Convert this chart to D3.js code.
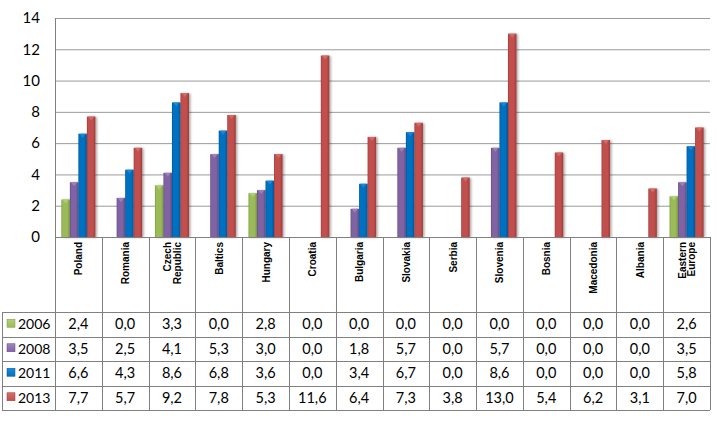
<!DOCTYPE html>
<html><head><meta charset="utf-8">
<script src="https://cdn.jsdelivr.net/npm/d3@7"></script>
<style>
html,body{margin:0;padding:0;background:#fff;}
svg{display:block;}
</style></head>
<body>
<svg id="chart" width="717" height="426"></svg>
<script>
const categories = ["Poland","Romania","Czech\nRepublic","Baltics","Hungary","Croatia","Bulgaria","Slovakia","Serbia","Slovenia","Bosnia","Macedonia","Albania","Eastern\nEurope"];
const seriesNames = ["2006","2008","2011","2013"];
const v2006 = [2.4,0.0,3.3,0.0,2.8,0.0,0.0,0.0,0.0,0.0,0.0,0.0,0.0,2.6];
const v2008 = [3.5,2.5,4.1,5.3,3.0,0.0,1.8,5.7,0.0,5.7,0.0,0.0,0.0,3.5];
const v2011 = [6.6,4.3,8.6,6.8,3.6,0.0,3.4,6.7,0.0,8.6,0.0,0.0,0.0,5.8];
const v2013 = [7.7,5.7,9.2,7.8,5.3,11.6,6.4,7.3,3.8,13.0,5.4,6.2,3.1,7.0];
const yTicks = [0,2,4,6,8,10,12,14];
const seriesValues = [v2006,v2008,v2011,v2013];
const colors = {
  "2006":{main:"#9BBB59",dark:"#7A9A3F",light:"#B3CF78"},
  "2008":{main:"#8064A2",dark:"#634985",light:"#9C85BA"},
  "2011":{main:"#0070C0",dark:"#00569A",light:"#1E8AD6"},
  "2013":{main:"#C0504D",dark:"#9E3A38",light:"#D66E6A"}
};

const svg = d3.select("#chart");
const L = 55, R = 710, T = 18, B = 237;
const tableTop = 312, rowH = 24.5, tableLeft = 2;
const FONT = "Lato, 'Open Sans', sans-serif";

const defs = svg.append("defs");
seriesNames.forEach((s,i)=>{
  const g = defs.append("linearGradient").attr("id","g"+i).attr("x1","0").attr("x2","1").attr("y1","0").attr("y2","0");
  g.append("stop").attr("offset","0").attr("stop-color",colors[s].dark);
  g.append("stop").attr("offset","0.15").attr("stop-color",colors[s].main);
  g.append("stop").attr("offset","0.7").attr("stop-color",colors[s].main);
  g.append("stop").attr("offset","1").attr("stop-color",colors[s].dark);
  const k = defs.append("linearGradient").attr("id","k"+i).attr("x1","0").attr("x2","0").attr("y1","0").attr("y2","1");
  k.append("stop").attr("offset","0").attr("stop-color",colors[s].light);
  k.append("stop").attr("offset","1").attr("stop-color",colors[s].main);
});
const f = defs.append("filter").attr("id","sh").attr("x","-20%").attr("y","-5%").attr("width","160%").attr("height","115%");
f.append("feDropShadow").attr("dx",1.5).attr("dy",0.5).attr("stdDeviation",0.8).attr("flood-color","#000").attr("flood-opacity",0.35);

const y = d3.scaleLinear().domain([0,14]).range([B,T]);
const x0 = d3.scaleBand().domain(categories).range([L,R]).padding(0);
const x1 = d3.scaleBand().domain(seriesNames).range([0,x0.bandwidth()]).paddingInner(0).paddingOuter(0.75);

// gridlines
svg.append("g").selectAll("line").data(yTicks.filter(d=>d>0)).join("line")
  .attr("x1",L).attr("x2",R).attr("y1",d=>y(d)+0.5).attr("y2",d=>y(d)+0.5)
  .attr("stroke","#9a9a9a").attr("stroke-width",1);

// y axis
const yAxis = d3.axisLeft(y).tickValues(yTicks).tickSize(0).tickPadding(15).tickFormat(d3.format("d"));
const ya = svg.append("g").attr("transform",`translate(${L},0)`).call(yAxis);
ya.select(".domain").remove();
ya.selectAll("text").attr("font-family",FONT).attr("font-size","15px").attr("fill","#000");
svg.append("line").attr("x1",L+0.5).attr("x2",L+0.5).attr("y1",T).attr("y2",B).attr("stroke","#808080");

// bars
const groups = svg.append("g").selectAll("g").data(categories).join("g")
  .attr("transform",d=>`translate(${x0(d)},0)`);
groups.each(function(c,ci){
  const gg = d3.select(this);
  seriesNames.forEach((s,si)=>{
    const v = seriesValues[si][ci];
    if (v <= 0) return;
    const bx = x1(s), bw = x1.bandwidth();
    gg.append("rect").attr("x",bx).attr("y",y(v)).attr("width",bw).attr("height",B-y(v))
      .attr("fill",`url(#g${si})`).attr("filter","url(#sh)");
    gg.append("path")
      .attr("d",`M${bx+1},${y(v)} L${bx+bw-1},${y(v)} L${bx+bw/2},${y(v)+4} Z`)
      .attr("fill",colors[s].light).attr("opacity",0.9);
  });
});

// x axis line
svg.append("line").attr("x1",L).attr("x2",R).attr("y1",B+0.5).attr("y2",B+0.5).attr("stroke","#808080");

// category dividers and labels
const tableBottom = tableTop + rowH*4;
const bounds = categories.map(c=>x0(c)).concat([R]);
svg.append("g").selectAll("line").data(bounds).join("line")
  .attr("x1",d=>Math.round(d)+0.5).attr("x2",d=>Math.round(d)+0.5)
  .attr("y1",B).attr("y2",tableBottom)
  .attr("stroke","#808080");

const labG = svg.append("g");
categories.forEach(c=>{
  const lines = c.split("\n");
  const cx = x0(c) + x0.bandwidth()/2 + 4;
  lines.forEach((ln,li)=>{
    const off = (li - (lines.length-1)/2) * 9.5;
    labG.append("text")
      .attr("transform",`translate(${cx+off},242) rotate(-90)`)
      .attr("text-anchor","end")
      .attr("font-family","'Liberation Sans Narrow','Arial Narrow','Liberation Sans',sans-serif")
      .attr("font-weight","bold").attr("font-size","10px").attr("fill","#000")
      .text(ln);
  });
});

// table
const fmt = v => d3.format(".1f")(v).replace(".",",");
for (let r=0;r<=4;r++){
  svg.append("line").attr("x1",tableLeft).attr("x2",R).attr("y1",Math.round(tableTop+r*rowH)+0.5).attr("y2",Math.round(tableTop+r*rowH)+0.5).attr("stroke","#808080");
}
svg.append("line").attr("x1",tableLeft+0.5).attr("x2",tableLeft+0.5).attr("y1",tableTop).attr("y2",tableBottom).attr("stroke","#808080");

seriesNames.forEach((s,si)=>{
  const cy = tableTop + si*rowH + rowH/2;
  svg.append("rect").attr("x",7).attr("y",cy-5).attr("width",8).attr("height",8)
    .attr("fill",`url(#k${si})`).attr("stroke",colors[s].dark).attr("stroke-width",0.5);
  svg.append("text").attr("x",18).attr("y",cy+5)
    .attr("font-family",FONT).attr("font-size","14px").attr("fill","#000")
    .text(s);
  svg.append("g").selectAll("text").data(seriesValues[si]).join("text")
    .attr("x",(d,i)=>x0(categories[i])+x0.bandwidth()/2)
    .attr("y",cy+5)
    .attr("text-anchor","middle")
    .attr("font-family",FONT).attr("font-size","14.5px").attr("fill","#000")
    .text(d=>fmt(d));
});
</script>
</body></html>
